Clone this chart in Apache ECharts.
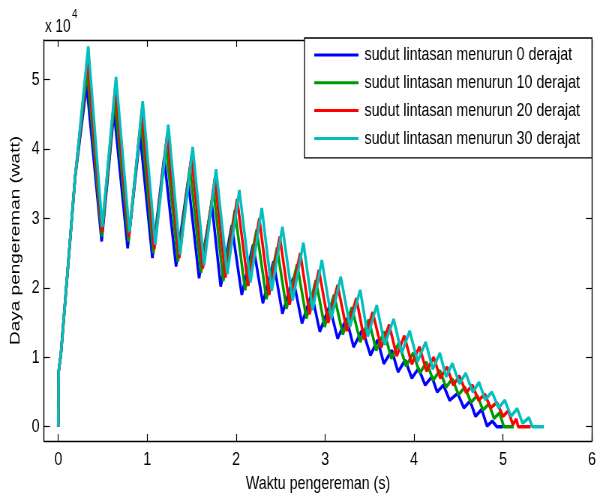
<!DOCTYPE html>
<html>
<head>
<meta charset="utf-8">
<script src="https://cdn.jsdelivr.net/npm/echarts@6/dist/echarts.min.js"></script>
<style>
  html, body { margin: 0; padding: 0; background: #fff; overflow: hidden; }
  #frame { width: 598px; height: 497px; overflow: hidden; }
  /* the figure is laid out wide and condensed horizontally, like a narrow-face plot */
  #chart { width: 797px; height: 497px; transform: scaleX(0.75); transform-origin: 0 0; }
</style>
</head>
<body>
<div id="frame"><div id="chart"></div></div>
<script>
// Braking power (x 10^4 W) against braking time (s) for four descent angles.
const seriesNames = [
  'sudut lintasan menurun 0 derajat',
  'sudut lintasan menurun 10 derajat',
  'sudut lintasan menurun 20 derajat',
  'sudut lintasan menurun 30 derajat'
];

// 0 degrees
const time0 = [0, 0.005, 0.03, 0.09, 0.19,
  0.319, 0.488, 0.627, 0.78, 0.92, 1.058, 1.19, 1.324, 1.46, 1.583, 1.725, 1.826,
  1.95, 2.063, 2.19, 2.30, 2.42, 2.52, 2.64, 2.74, 2.85, 2.94, 3.05, 3.14, 3.24, 3.32,
  3.42, 3.51, 3.59, 3.66, 3.75, 3.82, 3.90, 3.975, 4.05, 4.125, 4.20, 4.26, 4.33, 4.40,
  4.49, 4.56, 4.63, 4.69, 4.76, 4.82, 4.88, 4.93, 5.0];
const power0 = [0, 0.8, 1.05, 2.0, 3.6,
  4.92, 2.67, 4.54, 2.57, 4.20, 2.43, 3.87, 2.31, 3.55, 2.14, 3.22, 2.02,
  2.90, 1.90, 2.62, 1.78, 2.38, 1.63, 2.14, 1.49, 1.92, 1.37, 1.74, 1.27, 1.56, 1.15,
  1.40, 1.03, 1.25, 0.91, 1.10, 0.79, 0.96, 0.70, 0.84, 0.60, 0.72, 0.50, 0.60, 0.38,
  0.48, 0.27, 0.37, 0.15, 0.25, 0.01, 0.08, 0, 0];

// 10 degrees
const time10 = [0, 0.005, 0.03, 0.09, 0.19,
  0.325, 0.49, 0.635, 0.79, 0.93, 1.07, 1.21, 1.345, 1.48, 1.605, 1.745, 1.855,
  1.985, 2.10, 2.23, 2.34, 2.46, 2.565, 2.685, 2.79, 2.895, 2.995, 3.10, 3.20, 3.30, 3.395,
  3.49, 3.575, 3.665, 3.745, 3.83, 3.91, 3.99, 4.065, 4.14, 4.215, 4.29, 4.36, 4.43, 4.50,
  4.57, 4.64, 4.71, 4.775, 4.84, 4.90, 4.96, 5.01, 5.12];
const power10 = [0, 0.8, 1.05, 2.0, 3.6,
  5.12, 2.74, 4.72, 2.67, 4.40, 2.50, 4.06, 2.38, 3.74, 2.22, 3.42, 2.10,
  3.12, 1.97, 2.84, 1.84, 2.58, 1.70, 2.34, 1.56, 2.11, 1.44, 1.90, 1.33, 1.72, 1.22,
  1.54, 1.10, 1.37, 0.98, 1.21, 0.87, 1.06, 0.77, 0.93, 0.67, 0.81, 0.57, 0.69, 0.46,
  0.57, 0.35, 0.45, 0.24, 0.33, 0.12, 0.20, 0, 0];

// 20 degrees
const time20 = [0, 0.005, 0.03, 0.09, 0.19,
  0.33, 0.492, 0.642, 0.795, 0.94, 1.08, 1.225, 1.36, 1.497, 1.625, 1.76, 1.88,
  2.01, 2.135, 2.26, 2.37, 2.49, 2.60, 2.72, 2.825, 2.93, 3.035, 3.14, 3.245, 3.35, 3.44,
  3.535, 3.63, 3.72, 3.805, 3.89, 3.975, 4.06, 4.14, 4.22, 4.295, 4.37, 4.44, 4.51, 4.585,
  4.655, 4.725, 4.795, 4.86, 4.93, 5.00, 5.06, 5.11, 5.15, 5.17, 5.31];
const power20 = [0, 0.8, 1.05, 2.0, 3.6,
  5.31, 2.81, 4.90, 2.74, 4.56, 2.56, 4.22, 2.43, 3.90, 2.28, 3.58, 2.15,
  3.28, 2.03, 3.00, 1.90, 2.74, 1.76, 2.50, 1.62, 2.26, 1.50, 2.04, 1.38, 1.85, 1.26,
  1.65, 1.14, 1.47, 1.02, 1.31, 0.90, 1.15, 0.80, 1.00, 0.70, 0.86, 0.60, 0.73, 0.49,
  0.60, 0.38, 0.47, 0.27, 0.35, 0.15, 0.23, 0.03, 0.11, 0, 0];

// 30 degrees
const time30 = [0, 0.005, 0.03, 0.09, 0.19,
  0.337, 0.495, 0.649, 0.80, 0.949, 1.09, 1.237, 1.37, 1.511, 1.64, 1.774, 1.90,
  2.036, 2.16, 2.288, 2.40, 2.52, 2.635, 2.756, 2.86, 2.963, 3.07, 3.176, 3.28, 3.394, 3.48,
  3.58, 3.67, 3.77, 3.86, 3.95, 4.04, 4.13, 4.21, 4.29, 4.36, 4.43, 4.51, 4.58, 4.66,
  4.73, 4.80, 4.875, 4.95, 5.02, 5.09, 5.16, 5.22, 5.29, 5.33, 5.46];
const power30 = [0, 0.8, 1.05, 2.0, 3.6,
  5.48, 2.88, 5.04, 2.80, 4.69, 2.62, 4.35, 2.48, 4.03, 2.33, 3.71, 2.20,
  3.41, 2.08, 3.15, 1.96, 2.88, 1.82, 2.65, 1.68, 2.40, 1.56, 2.16, 1.44, 1.97, 1.30,
  1.75, 1.18, 1.55, 1.06, 1.38, 0.94, 1.22, 0.83, 1.06, 0.72, 0.91, 0.62, 0.77, 0.50,
  0.64, 0.39, 0.50, 0.27, 0.38, 0.15, 0.26, 0.05, 0.13, 0, 0];

const xTicks = [0, 1, 2, 3, 4, 5, 6];
const yTicks = [0, 1, 2, 3, 4, 5];

const lineColors = ['#0000ff', '#009900', '#ff0000', '#00bfbf'];
const textFont = '"Liberation Sans", Arial, Helvetica, sans-serif';

const times = [time0, time10, time20, time30];
const powers = [power0, power10, power20, power30];

function pairs(t, p) {
  const n = Math.min(t.length, p.length);
  const out = [];
  for (let i = 0; i < n; i++) out.push([t[i], p[i]]);
  return out;
}

const frameLine = { show: true, onZero: false, lineStyle: { color: '#000', width: 1.4 } };
const tickStyle = { color: '#000', width: 1.2 };

const chart = echarts.init(document.getElementById('chart'), null, { renderer: 'canvas' });
chart.setOption({
  animation: false,
  backgroundColor: '#fff',
  grid: { left: 58.7, right: 7.7, top: 40, bottom: 56, outerBoundsMode: 'none', containLabel: false },
  xAxis: [
    {
      type: 'value', min: -0.16, max: 6, position: 'bottom',
      axisLine: frameLine,
      axisTick: { show: true, inside: true, length: 7, customValues: xTicks, lineStyle: tickStyle },
      axisLabel: { customValues: xTicks, margin: 9, color: '#000', fontFamily: textFont, fontSize: 19 },
      splitLine: { show: false },
      name: 'Waktu pengereman (s)', nameLocation: 'middle', nameGap: 33,
      nameTextStyle: { color: '#000', fontFamily: textFont, fontSize: 19 }
    },
    {
      type: 'value', min: -0.16, max: 6, position: 'top',
      axisLine: frameLine,
      axisTick: { show: true, inside: true, length: 7, customValues: xTicks, lineStyle: tickStyle },
      axisLabel: { show: false },
      splitLine: { show: false }
    }
  ],
  yAxis: [
    {
      type: 'value', min: -0.206, max: 5.572, position: 'left',
      axisLine: frameLine,
      axisTick: { show: true, inside: true, length: 8, customValues: yTicks, lineStyle: tickStyle },
      axisLabel: { customValues: yTicks, margin: 6, color: '#000', fontFamily: textFont, fontSize: 19 },
      splitLine: { show: false },
      name: 'Daya pengereman (watt)', nameLocation: 'middle', nameGap: 28, nameRotate: 90,
      nameTextStyle: { color: '#000', fontFamily: textFont, fontSize: 19 }
    },
    {
      type: 'value', min: -0.206, max: 5.572, position: 'right',
      axisLine: frameLine,
      axisTick: { show: true, inside: true, length: 8, customValues: yTicks, lineStyle: tickStyle },
      axisLabel: { show: false },
      splitLine: { show: false }
    }
  ],
  legend: {
    orient: 'vertical', right: 7.7, top: 38,
    icon: 'rect', itemWidth: 59, itemHeight: 3, itemGap: 8.8,
    padding: [7.5, 16, 10, 13],
    borderColor: '#000', borderWidth: 1.3, backgroundColor: '#fff',
    textStyle: { color: '#000', fontFamily: textFont, fontSize: 19, lineHeight: 19, padding: [0, 0, 0, 3] },
    data: seriesNames
  },
  graphic: [
    { type: 'text', left: 60, top: 18, style: { text: 'x 10', fill: '#000', font: '18px ' + textFont } },
    { type: 'text', left: 96, top: 8, style: { text: '4', fill: '#000', font: '13px ' + textFont } }
  ],
  series: seriesNames.map((name, i) => ({
    name: name,
    type: 'line',
    xAxisIndex: 0,
    yAxisIndex: 0,
    data: pairs(times[i], powers[i]),
    showSymbol: false,
    symbol: 'none',
    color: lineColors[i],
    lineStyle: { color: lineColors[i], width: 3.5 },
    z: 2 + i
  }))
});
</script>
</body>
</html>
